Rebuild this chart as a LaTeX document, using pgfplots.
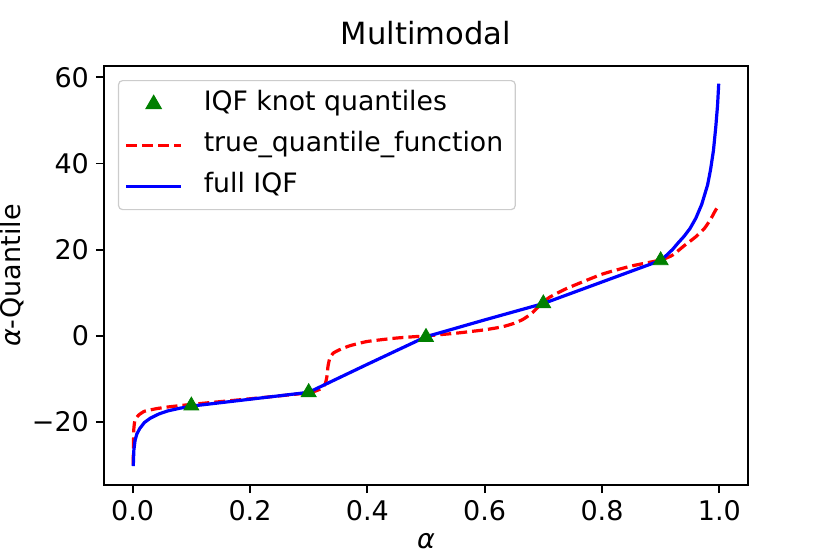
\documentclass[border=0pt]{standalone}
\usepackage{fontspec}
\setmainfont{DejaVu Sans}
\usepackage{pgfplots}
\pgfplotsset{compat=1.18}
\definecolor{mplgreen}{RGB}{0,128,0}
\begin{document}
\begin{tikzpicture}[x=1pt,y=1pt]
\useasboundingbox (-52,-34.5) rectangle (363,242.5);
\begin{axis}[
  at={(0,0)}, anchor=south west,
  scale only axis, width=322pt, height=209.5pt,
  xmin=-0.0489, xmax=1.0489, ymin=-34.6, ymax=62.6,
  axis line style={line width=0.9pt},
  tick align=outside, major tick length=4pt,
  xtick pos=lower, ytick pos=left,
  tick style={line width=0.9pt, black},
  xtick={0,0.2,0.4,0.6,0.8,1}, xticklabels={0.0,0.2,0.4,0.6,0.8,1.0},
  ytick={-20,0,20,40,60}, yticklabels={−20,0,20,40,60},
  ticklabel style={font=\fontsize{13.5}{16}\selectfont},
  title={Multimodal},
  title style={at={(axis description cs:0.5,1.0239)}, anchor=base, font=\fontsize{15.3}{18}\selectfont},
  xlabel={\textit{α}},
  xlabel style={at={(axis description cs:0.5,-0.152)}, anchor=base, font=\fontsize{13.5}{16}\selectfont},
  ylabel={\textit{α}-Quantile},
  every axis y label/.style={at={(axis description cs:-0.1297,0.5)}, rotate=90, anchor=base, font=\fontsize{13.5}{16}\selectfont},
  legend cell align=left,
  legend style={at={(axis description cs:0.0217,0.9666)}, anchor=north west,
    draw=black!20, rounded corners=2pt, line width=0.6pt,
    font=\fontsize{13.35}{16}\selectfont,
    inner xsep=3pt, inner ysep=2pt, row sep=1pt, column sep=7.5pt,
    nodes={text height=10pt, text depth=3.5pt, inner sep=3pt}},
  legend image code/.code={\draw[mark repeat=2,mark phase=2,#1] plot coordinates {(0pt,0pt)(13.75pt,0pt)(27.5pt,0pt)};},
]
\addplot[only marks, mark=triangle*, mark size=4.3pt, color=mplgreen] coordinates {
(0.1,-16.2)(0.3,-13.1)(0.5,-0.3)(0.7,7.5)(0.9,17.5)};
\addlegendentry{IQF knot quantiles}
\addplot[red, line width=1.6pt, dash pattern=on 5.5pt off 2.5pt, smooth, tension=0.3] coordinates {
(0.001,-29.8)(0.0013,-25.5)(0.002,-21.5)(0.004,-19.5)(0.01,-18.4)(0.02,-17.5)(0.04,-16.9)(0.06,-16.5)(0.1,-15.9)(0.2,-14.6)(0.3,-13.2)
(0.32,-12.3)(0.328,-11.2)(0.331,-9.5)(0.333,-7)(0.336,-5.2)(0.342,-4.0)(0.353,-3.2)(0.37,-2.3)(0.4,-1.3)(0.45,-0.5)(0.5,0.0)
(0.55,0.6)(0.6,1.4)(0.63,2.1)(0.65,2.9)(0.665,3.8)(0.68,5.2)(0.695,7.2)(0.71,8.9)(0.74,11.0)(0.8,14.3)(0.85,16.2)(0.9,17.6)
(0.92,18.7)(0.94,20.9)(0.96,23.0)(0.975,25.0)(0.985,27.0)(0.993,29.0)(0.999,30.3)};
\addlegendentry{true\_quantile\_function}
\addplot[blue, line width=1.6pt] coordinates {
(0.001,-30.2)(0.002,-26.5)(0.004,-24.3)(0.007,-22.8)(0.012,-21.5)(0.02,-20.1)(0.03,-19.1)(0.045,-18.1)(0.06,-17.4)(0.08,-16.8)(0.1,-16.3)
(0.2,-14.7)(0.3,-13.1)(0.4,-6.6)(0.5,-0.2)(0.6,3.7)(0.7,7.5)(0.8,12.5)(0.9,17.5)
(0.91,18.7)(0.92,20.0)(0.93,21.6)(0.94,23.1)(0.95,24.9)(0.96,27.3)(0.97,30.5)(0.98,35.0)(0.985,38.5)(0.99,43.0)(0.994,48.5)(0.997,53.5)(0.999,58.5)};
\addlegendentry{full IQF}
\end{axis}
\end{tikzpicture}
\end{document}
